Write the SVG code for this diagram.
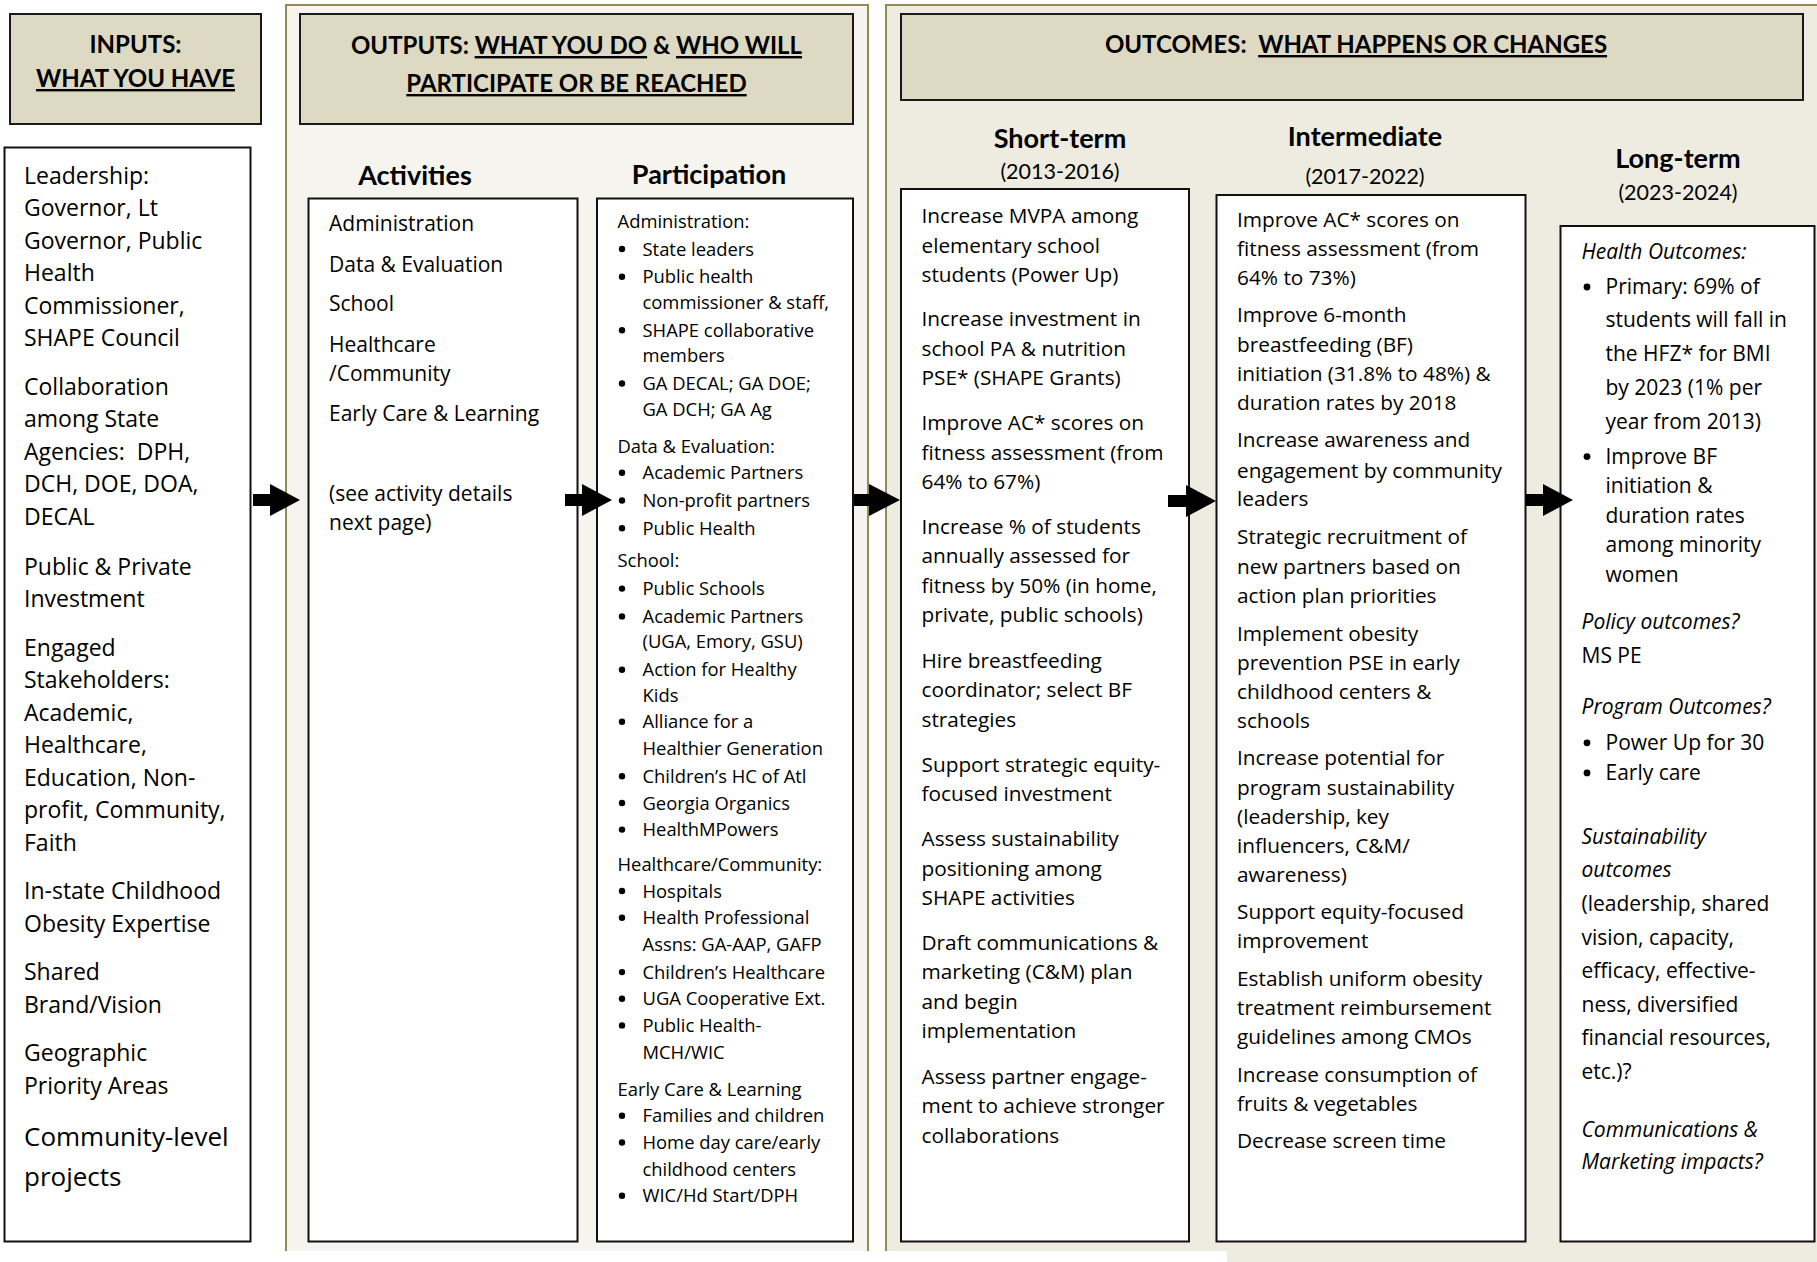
<svg xmlns="http://www.w3.org/2000/svg" width="1817" height="1262" viewBox="0 0 1817 1262">
<style>
.hdr{fill:#ddd9c3;stroke:#1a1a1a;stroke-width:2}
.box{fill:#ffffff;stroke:#111111;stroke-width:2}
.ttl{font-family:Lato,"Liberation Sans",sans-serif;font-weight:700;font-size:24px;fill:#000}
.col{font-family:Lato,"Liberation Sans",sans-serif;font-weight:700;font-size:27px;fill:#000;text-anchor:middle}
.yr{font-family:Lato,"Liberation Sans",sans-serif;font-size:21.5px;fill:#000;text-anchor:middle}
.u{text-decoration:underline}
.t{font-family:"Open Sans","DejaVu Sans",sans-serif;fill:#000}
.in{font-size:23px}
.ac{font-size:21px}
.pa{font-size:18.4px}
.oc{font-size:20.8px}
.lt{font-size:21px}
.it{font-style:italic}
.arrow{fill:#000}
</style>

<!-- background panels -->
<g id="outputs-panel">
<rect x="286" y="5" width="582" height="1270" fill="#f5f4ef" stroke="#948a54" stroke-width="2"/>
</g>
<g id="outcomes-panel">
<rect x="886" y="5" width="950" height="1270" fill="#eeece1" stroke="#948a54" stroke-width="2"/>
</g>
<rect x="0" y="1251" width="1227" height="11" fill="#ffffff"/>

<!-- headers -->
<g id="inputs-header">
<rect class="hdr" x="10" y="14" width="251" height="110"/>
<text class="ttl" x="135.5" y="53" text-anchor="middle">INPUTS:</text>
<text class="ttl" x="135.5" y="87" text-anchor="middle"><tspan class="u">WHAT YOU HAVE</tspan></text>
</g>
<g id="outputs-header">
<rect class="hdr" x="300" y="14" width="553" height="110"/>
<text class="ttl" x="576.5" y="54" text-anchor="middle">OUTPUTS: <tspan class="u">WHAT YOU DO</tspan> &amp; <tspan class="u">WHO WILL</tspan></text>
<text class="ttl" x="576.5" y="92" text-anchor="middle"><tspan class="u">PARTICIPATE OR BE REACHED</tspan></text>
</g>
<g id="outcomes-header">
<rect class="hdr" x="901" y="14" width="902" height="86"/>
<text class="ttl" x="1356" y="53" text-anchor="middle">OUTCOMES:&#160; <tspan class="u">WHAT HAPPENS OR CHANGES</tspan></text>
</g>

<!-- column headings -->
<g id="headings">
<text class="col" x="415" y="185">Activities</text>
<text class="col" x="709" y="184">Participation</text>
<text class="col" x="1060" y="148">Short-term</text>
<text class="yr" x="1060" y="179">(2013-2016)</text>
<text class="col" x="1365" y="146">Intermediate</text>
<text class="yr" x="1365" y="184">(2017-2022)</text>
<text class="col" x="1678" y="168">Long-term</text>
<text class="yr" x="1678" y="200">(2023-2024)</text>
</g>

<!-- Inputs -->
<g id="inputs">
<rect class="box" x="4.5" y="147.5" width="246" height="1094"/>
<text class="t in" x="24">
<tspan x="24" y="184">Leadership:</tspan>
<tspan x="24" y="216">Governor, Lt</tspan>
<tspan x="24" y="248.5">Governor, Public</tspan>
<tspan x="24" y="281">Health</tspan>
<tspan x="24" y="313.5">Commissioner,</tspan>
<tspan x="24" y="346">SHAPE Council</tspan>
<tspan x="24" y="394.5">Collaboration</tspan>
<tspan x="24" y="427">among State</tspan>
<tspan x="24" y="459.5">Agencies:&#160; DPH,</tspan>
<tspan x="24" y="492">DCH, DOE, DOA,</tspan>
<tspan x="24" y="524.5">DECAL</tspan>
<tspan x="24" y="574.5">Public &amp; Private</tspan>
<tspan x="24" y="607">Investment</tspan>
<tspan x="24" y="655.5">Engaged</tspan>
<tspan x="24" y="688">Stakeholders:</tspan>
<tspan x="24" y="720.5">Academic,</tspan>
<tspan x="24" y="753">Healthcare,</tspan>
<tspan x="24" y="785.5">Education, Non-</tspan>
<tspan x="24" y="818">profit, Community,</tspan>
<tspan x="24" y="850.5">Faith</tspan>
<tspan x="24" y="899">In-state Childhood</tspan>
<tspan x="24" y="931.5">Obesity Expertise</tspan>
<tspan x="24" y="980">Shared</tspan>
<tspan x="24" y="1012.5">Brand/Vision</tspan>
<tspan x="24" y="1061">Geographic</tspan>
<tspan x="24" y="1093.5">Priority Areas</tspan>
</text>
<text class="t" font-size="26" x="24"><tspan x="24" y="1146">Community-level</tspan><tspan x="24" y="1186">projects</tspan></text>
</g>

<!-- Activities -->
<g id="activities">
<rect class="box" x="308.5" y="198.5" width="269" height="1043"/>
<text class="t ac">
<tspan x="329" y="231">Administration</tspan>
<tspan x="329" y="271.5">Data &amp; Evaluation</tspan>
<tspan x="329" y="311">School</tspan>
<tspan x="329" y="351.5">Healthcare</tspan>
<tspan x="329" y="380.5">/Community</tspan>
<tspan x="329" y="421">Early Care &amp; Learning</tspan>
<tspan x="329" y="501">(see activity details</tspan>
<tspan x="329" y="530">next page)</tspan>
</text>
</g>

<!-- Participation -->
<g id="participation">
<rect class="box" x="597" y="198.5" width="256" height="1043"/>
<text class="t pa">
<tspan x="617.5" y="228">Administration:</tspan>
<tspan x="642.5" y="255.5">State leaders</tspan>
<tspan x="642.5" y="283.3">Public health</tspan>
<tspan x="642.5" y="309">commissioner &amp; staff,</tspan>
<tspan x="642.5" y="336.7">SHAPE collaborative</tspan>
<tspan x="642.5" y="362.2">members</tspan>
<tspan x="642.5" y="390">GA DECAL; GA DOE;</tspan>
<tspan x="642.5" y="415.5">GA DCH; GA Ag</tspan>
<tspan x="617.5" y="452.5">Data &amp; Evaluation:</tspan>
<tspan x="642.5" y="479.2">Academic Partners</tspan>
<tspan x="642.5" y="507">Non-profit partners</tspan>
<tspan x="642.5" y="534.8">Public Health</tspan>
<tspan x="617.5" y="567.3">School:</tspan>
<tspan x="642.5" y="595.1">Public Schools</tspan>
<tspan x="642.5" y="622.9">Academic Partners</tspan>
<tspan x="642.5" y="648.4">(UGA, Emory, GSU)</tspan>
<tspan x="642.5" y="676.2">Action for Healthy</tspan>
<tspan x="642.5" y="701.7">Kids</tspan>
<tspan x="642.5" y="728.3">Alliance for a</tspan>
<tspan x="642.5" y="755">Healthier Generation</tspan>
<tspan x="642.5" y="782.8">Children’s HC of Atl</tspan>
<tspan x="642.5" y="809.5">Georgia Organics</tspan>
<tspan x="642.5" y="836.1">HealthMPowers</tspan>
<tspan x="617.5" y="870.9">Healthcare/Community:</tspan>
<tspan x="642.5" y="897.5">Hospitals</tspan>
<tspan x="642.5" y="924.2">Health Professional</tspan>
<tspan x="642.5" y="950.8">Assns: GA-AAP, GAFP</tspan>
<tspan x="642.5" y="978.6">Children’s Healthcare</tspan>
<tspan x="642.5" y="1005.3">UGA Cooperative Ext.</tspan>
<tspan x="642.5" y="1031.9">Public Health-</tspan>
<tspan x="642.5" y="1058.6">MCH/WIC</tspan>
<tspan x="617.5" y="1095.7">Early Care &amp; Learning</tspan>
<tspan x="642.5" y="1122.3">Families and children</tspan>
<tspan x="642.5" y="1149">Home day care/early</tspan>
<tspan x="642.5" y="1175.6">childhood centers</tspan>
<tspan x="642.5" y="1202.3">WIC/Hd Start/DPH</tspan>
</text>
<g fill="#000">
<circle cx="622" cy="249" r="3.2"/>
<circle cx="622" cy="276.8" r="3.2"/>
<circle cx="622" cy="330.2" r="3.2"/>
<circle cx="622" cy="383.5" r="3.2"/>
<circle cx="622" cy="472.7" r="3.2"/>
<circle cx="622" cy="500.5" r="3.2"/>
<circle cx="622" cy="528.3" r="3.2"/>
<circle cx="622" cy="588.6" r="3.2"/>
<circle cx="622" cy="616.4" r="3.2"/>
<circle cx="622" cy="669.7" r="3.2"/>
<circle cx="622" cy="721.8" r="3.2"/>
<circle cx="622" cy="776.3" r="3.2"/>
<circle cx="622" cy="803" r="3.2"/>
<circle cx="622" cy="829.6" r="3.2"/>
<circle cx="622" cy="891" r="3.2"/>
<circle cx="622" cy="917.7" r="3.2"/>
<circle cx="622" cy="972.1" r="3.2"/>
<circle cx="622" cy="998.8" r="3.2"/>
<circle cx="622" cy="1025.4" r="3.2"/>
<circle cx="622" cy="1115.8" r="3.2"/>
<circle cx="622" cy="1142.5" r="3.2"/>
<circle cx="622" cy="1195.8" r="3.2"/>
</g>
</g>

<!-- Short-term -->
<g id="short-term">
<rect class="box" x="901" y="189" width="288" height="1052.5"/>
<text class="t oc">
<tspan x="921.5" y="222.5">Increase MVPA among</tspan>
<tspan x="921.5" y="252.7">elementary school</tspan>
<tspan x="921.5" y="281.6">students (Power Up)</tspan>
<tspan x="921.5" y="325.7">Increase investment in</tspan>
<tspan x="921.5" y="355.8">school PA &amp; nutrition</tspan>
<tspan x="921.5" y="384.8">PSE* (SHAPE Grants)</tspan>
<tspan x="921.5" y="430">Improve AC* scores on</tspan>
<tspan x="921.5" y="460.1">fitness assessment (from</tspan>
<tspan x="921.5" y="489.1">64% to 67%)</tspan>
<tspan x="921.5" y="534.3">Increase % of students</tspan>
<tspan x="921.5" y="563.2">annually assessed for</tspan>
<tspan x="921.5" y="593.4">fitness by 50% (in home,</tspan>
<tspan x="921.5" y="622.3">private, public schools)</tspan>
<tspan x="921.5" y="667.5">Hire breastfeeding</tspan>
<tspan x="921.5" y="696.5">coordinator; select BF</tspan>
<tspan x="921.5" y="726.6">strategies</tspan>
<tspan x="921.5" y="771.8">Support strategic equity-</tspan>
<tspan x="921.5" y="800.8">focused investment</tspan>
<tspan x="921.5" y="846">Assess sustainability</tspan>
<tspan x="921.5" y="876.1">positioning among</tspan>
<tspan x="921.5" y="905.1">SHAPE activities</tspan>
<tspan x="921.5" y="950.3">Draft communications &amp;</tspan>
<tspan x="921.5" y="979.2">marketing (C&amp;M) plan</tspan>
<tspan x="921.5" y="1009.4">and begin</tspan>
<tspan x="921.5" y="1038.3">implementation</tspan>
<tspan x="921.5" y="1083.5">Assess partner engage-</tspan>
<tspan x="921.5" y="1112.5">ment to achieve stronger</tspan>
<tspan x="921.5" y="1142.6">collaborations</tspan>
</text>
</g>

<!-- Intermediate -->
<g id="intermediate">
<rect class="box" x="1216.5" y="195" width="309" height="1046.5"/>
<text class="t oc">
<tspan x="1237" y="227.2">Improve AC* scores on</tspan>
<tspan x="1237" y="256.1">fitness assessment (from</tspan>
<tspan x="1237" y="285.1">64% to 73%)</tspan>
<tspan x="1237" y="322.2">Improve 6-month</tspan>
<tspan x="1237" y="352.3">breastfeeding (BF)</tspan>
<tspan x="1237" y="381.3">initiation (31.8% to 48%) &amp;</tspan>
<tspan x="1237" y="410.3">duration rates by 2018</tspan>
<tspan x="1237" y="447.3">Increase awareness and</tspan>
<tspan x="1237" y="477.5">engagement by community</tspan>
<tspan x="1237" y="506.4">leaders</tspan>
<tspan x="1237" y="543.5">Strategic recruitment of</tspan>
<tspan x="1237" y="573.7">new partners based on</tspan>
<tspan x="1237" y="602.6">action plan priorities</tspan>
<tspan x="1237" y="640.9">Implement obesity</tspan>
<tspan x="1237" y="669.8">prevention PSE in early</tspan>
<tspan x="1237" y="698.8">childhood centers &amp;</tspan>
<tspan x="1237" y="727.8">schools</tspan>
<tspan x="1237" y="764.9">Increase potential for</tspan>
<tspan x="1237" y="795">program sustainability</tspan>
<tspan x="1237" y="824">(leadership, key</tspan>
<tspan x="1237" y="852.9">influencers, C&amp;M/</tspan>
<tspan x="1237" y="881.9">awareness)</tspan>
<tspan x="1237" y="919">Support equity-focused</tspan>
<tspan x="1237" y="948">improvement</tspan>
<tspan x="1237" y="986.2">Establish uniform obesity</tspan>
<tspan x="1237" y="1015.2">treatment reimbursement</tspan>
<tspan x="1237" y="1044.1">guidelines among CMOs</tspan>
<tspan x="1237" y="1082.4">Increase consumption of</tspan>
<tspan x="1237" y="1111.3">fruits &amp; vegetables</tspan>
<tspan x="1237" y="1148.4">Decrease screen time</tspan>
</text>
</g>

<!-- Long-term -->
<g id="long-term">
<rect class="box" x="1560.5" y="226" width="254" height="1015.5"/>
<text class="t lt">
<tspan class="it" x="1581.5" y="258.5">Health Outcomes:</tspan>
<tspan x="1605.5" y="294">Primary: 69% of</tspan>
<tspan x="1605.5" y="327">students will fall in</tspan>
<tspan x="1605.5" y="360.5">the HFZ* for BMI</tspan>
<tspan x="1605.5" y="395">by 2023 (1% per</tspan>
<tspan x="1605.5" y="428.8">year from 2013)</tspan>
<tspan x="1605.5" y="463.6">Improve BF</tspan>
<tspan x="1605.5" y="492.5">initiation &amp;</tspan>
<tspan x="1605.5" y="522.7">duration rates</tspan>
<tspan x="1605.5" y="551.6">among minority</tspan>
<tspan x="1605.5" y="581.8">women</tspan>
<tspan class="it" x="1581.5" y="629.3">Policy outcomes?</tspan>
<tspan x="1581.5" y="662.9">MS PE</tspan>
<tspan class="it" x="1581.5" y="713.9">Program Outcomes?</tspan>
<tspan x="1605.5" y="749.8">Power Up for 30</tspan>
<tspan x="1605.5" y="779.9">Early care</tspan>
<tspan class="it" x="1581.5" y="843.7">Sustainability</tspan>
<tspan class="it" x="1581.5" y="877.3">outcomes</tspan>
<tspan x="1581.5" y="910.9">(leadership, shared</tspan>
<tspan x="1581.5" y="944.5">vision, capacity,</tspan>
<tspan x="1581.5" y="978.1">efficacy, effective-</tspan>
<tspan x="1581.5" y="1011.7">ness, diversified</tspan>
<tspan x="1581.5" y="1045.3">financial resources,</tspan>
<tspan x="1581.5" y="1078.9">etc.)?</tspan>
<tspan class="it" x="1581.5" y="1136.8">Communications &amp;</tspan>
<tspan class="it" x="1581.5" y="1169.3">Marketing impacts?</tspan>
</text>
<g fill="#000">
<circle cx="1587" cy="287" r="3.4"/>
<circle cx="1587" cy="456.6" r="3.4"/>
<circle cx="1587" cy="742.8" r="3.4"/>
<circle cx="1587" cy="772.9" r="3.4"/>
</g>
</g>

<!-- connectors -->
<g id="connectors" class="arrow">
<path d="M253,494 H270 V484 L300,500 L270,516 V506 H253 Z"/>
<path d="M565,494 H582 V484 L612,500 L582,516 V506 H565 Z"/>
<path d="M854,494 H869 V484 L900,500 L869,516 V506 H854 Z"/>
<path d="M1168,495 H1186 V485 L1216,501 L1186,517 V507 H1168 Z"/>
<path d="M1526,494 H1543 V484 L1573,500 L1543,516 V506 H1526 Z"/>
</g>
</svg>
